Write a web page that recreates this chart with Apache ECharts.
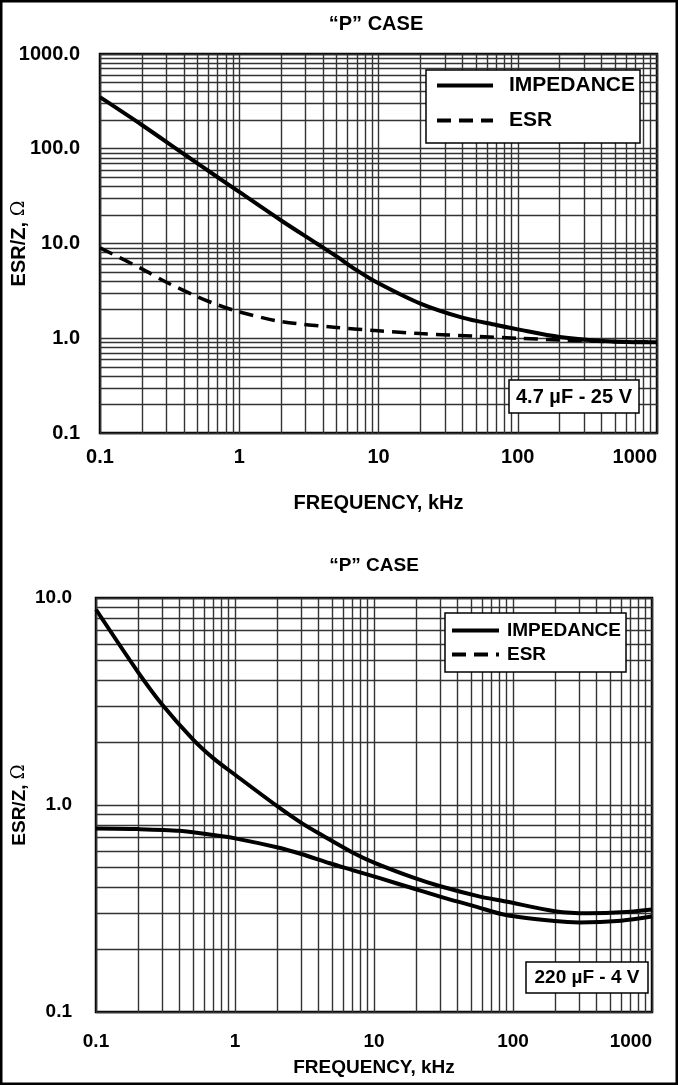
<!DOCTYPE html>
<html><head><meta charset="utf-8">
<script src="https://cdn.jsdelivr.net/npm/echarts@6/dist/echarts.min.js"></script>
<style>html,body{margin:0;padding:0;background:#fff}#c{width:678px;height:1085px}</style>
</head><body><div id="c"></div>
<script>
// ---- tick labels ----
const xTickLabels = ['0.1', '1', '10', '100', '1000'];
const yTopTickLabels = ['0.1', '1.0', '10.0', '100.0', '1000.0'];
const yBotTickLabels = ['0.1', '1.0', '10.0'];

// ---- top chart: 4.7 uF - 25 V ----
const freqImpTop = [0.1, 0.2, 0.4, 0.7, 1, 2, 3.6, 5, 7, 10, 20, 40, 70, 100, 200, 400, 700, 1000];
const impTop     = [350, 178, 88, 50, 35, 17.5, 10, 7.3, 5.2, 3.8, 2.32, 1.65, 1.38, 1.24, 1.03, 0.935, 0.91, 0.91];
const freqEsrTop = [0.1, 0.2, 0.3, 0.5, 0.7, 1, 2, 5, 10, 20, 50, 100, 200, 500, 1000];
const esrTop     = [9.0, 5.4, 3.9, 2.75, 2.25, 1.9, 1.5, 1.3, 1.2, 1.12, 1.05, 1.0, 0.96, 0.92, 0.91];

// ---- bottom chart: 220 uF - 4 V ----
const freqImpBot = [0.1, 0.2, 0.3, 0.5, 0.7, 1, 2, 3, 4.3, 7, 10, 19, 30, 57, 89, 200, 350, 600, 1000];
const impBot     = [8.8, 4.4, 3.05, 2.07, 1.68, 1.40, 0.99, 0.82, 0.71, 0.59, 0.527, 0.447, 0.405, 0.362, 0.342, 0.307, 0.30, 0.303, 0.313];
const freqEsrBot = [0.1, 0.2, 0.4, 0.7, 1, 2, 3, 4.8, 7, 11, 19, 33, 54, 89, 200, 300, 600, 1000];
const esrBot     = [0.77, 0.765, 0.75, 0.716, 0.69, 0.625, 0.58, 0.523, 0.485, 0.443, 0.396, 0.354, 0.323, 0.294, 0.275, 0.271, 0.276, 0.289];

const FONT = 'Liberation Sans, Arial, Helvetica, sans-serif';
const zip = (xs, ys) => xs.map((x, i) => [x, ys[i]]);
function minorVals(e0, e1) {
  const out = [];
  for (let e = e0; e < e1; e++) for (let k = 2; k <= 9; k++) out.push(+(k * Math.pow(10, e)).toPrecision(6));
  return out;
}
const idx = v => Math.round(Math.log10(v));

const gridLine = { color: '#333', width: 1.4 };
function xAxisDef(gi, fs, margin, nameGap) {
  return {
    type: 'log', gridIndex: gi, min: 0.1, max: 1000, logBase: 10,
    axisLine: { show: false }, axisTick: { show: false },
    splitLine: { show: true, lineStyle: gridLine },
    axisLabel: { fontFamily: FONT, fontWeight: 'bold', fontSize: fs, color: '#000', margin: margin,
      alignMaxLabel: 'right', formatter: v => xTickLabels[idx(v) + 1] },
    name: 'FREQUENCY, kHz', nameLocation: 'middle', nameGap: nameGap, nameMoveOverlap: false,
    nameTextStyle: { fontFamily: FONT, fontWeight: 'bold', fontSize: fs, color: '#000' }
  };
}
function yAxisDef(gi, min, max, labels, fs, margin, nameGap) {
  return {
    type: 'log', gridIndex: gi, min: min, max: max, logBase: 10,
    axisLine: { show: false }, axisTick: { show: false },
    splitLine: { show: true, lineStyle: gridLine },
    axisLabel: { fontFamily: FONT, fontWeight: 'bold', fontSize: fs, color: '#000', margin: margin,
      formatter: v => labels[idx(v) + 1] },
    name: '{a|ESR/Z, }{b|Ω}', nameLocation: 'middle', nameGap: nameGap, nameMoveOverlap: false,
    nameTextStyle: { rich: {
      a: { fontFamily: FONT, fontWeight: 'bold', fontSize: fs, color: '#000' },
      b: { fontFamily: 'DejaVu Serif', fontSize: fs - 1, color: '#000' } } }
  };
}
function minorMarkLine(yE0, yE1) {
  const data = minorVals(-1, 3).map(v => ({ xAxis: v }))
    .concat(minorVals(yE0, yE1).map(v => ({ yAxis: v })));
  return { silent: true, symbol: ['none', 'none'], z: 1, label: { show: false },
    lineStyle: { color: '#333', width: 1.4, type: 'solid' }, emphasis: { disabled: true }, data: data };
}
const lineSeries = (name, gi, xs, ys, style, extra) => Object.assign({
  name: name, type: 'line', xAxisIndex: gi, yAxisIndex: gi, data: zip(xs, ys),
  symbol: 'none', smooth: 0.3, z: 3,
  itemStyle: { color: '#000' }, lineStyle: style
}, extra || {});

const chart = echarts.init(document.getElementById('c'), null, { renderer: 'canvas' });
chart.setOption({
  animation: false,
  backgroundColor: '#fff',
  grid: [
    { left: 100, top: 54, width: 557, height: 379, show: true, borderColor: '#000', borderWidth: 2.5,
      backgroundColor: '#fff', containLabel: false, outerBoundsMode: 'none' },
    { left: 96, top: 598, width: 556, height: 414, show: true, borderColor: '#000', borderWidth: 2.5,
      backgroundColor: '#fff', containLabel: false, outerBoundsMode: 'none' }
  ],
  xAxis: [xAxisDef(0, 20, 14, 60), xAxisDef(1, 19, 20, 46)],
  yAxis: [yAxisDef(0, 0.1, 1000, yTopTickLabels, 20, 20, 71), yAxisDef(1, 0.1, 10, yBotTickLabels, 19, 24, 67)],
  legend: [
    { orient: 'vertical', left: 426, top: 70, padding: [5, 5, 12, 9], itemGap: 14, itemWidth: 56, itemHeight: 16,
      backgroundColor: '#fff', borderColor: '#000', borderWidth: 1.5, selectedMode: false,
      itemStyle: { opacity: 0 }, lineStyle: { width: 4, color: '#000' },
      textStyle: { fontFamily: FONT, fontWeight: 'bold', fontSize: 21, color: '#000', padding: [0, 0, 0, 11] },
      data: ['IMPEDANCE', 'ESR'] },
    { orient: 'vertical', left: 445, top: 613, padding: [8, 5, 8, 5], itemGap: 5, itemWidth: 47, itemHeight: 16,
      backgroundColor: '#fff', borderColor: '#000', borderWidth: 1.5, selectedMode: false,
      itemStyle: { opacity: 0 }, lineStyle: { width: 4, color: '#000' },
      textStyle: { fontFamily: FONT, fontWeight: 'bold', fontSize: 19, color: '#000', padding: [0, 0, 0, 3] },
      data: ['IMPEDANCE', 'ESR'] }
  ],
  series: [
    lineSeries('IMPEDANCE', 0, freqImpTop, impTop, { color: '#000', width: 4 }),
    lineSeries('ESR', 0, freqEsrTop, esrTop, { color: '#000', width: 3.5, type: [14, 8] },
      { markLine: minorMarkLine(-1, 3) }),
    lineSeries('IMPEDANCE', 1, freqImpBot, impBot, { color: '#000', width: 4 }),
    lineSeries('ESR', 1, freqEsrBot, esrBot, { color: '#000', width: 4 },
      { markLine: minorMarkLine(-1, 1) })
  ],
  graphic: [
    { type: 'rect', z: 100, silent: true, shape: { x: 1.25, y: 1.25, width: 675.5, height: 1082.5 },
      style: { fill: null, stroke: '#000', lineWidth: 2.5 } },
    { type: 'text', z: 100, x: 376, y: 24, style: { text: '“P” CASE', font: 'bold 20px ' + FONT, fill: '#000', textAlign: 'center', textVerticalAlign: 'middle' } },
    { type: 'text', z: 100, x: 374, y: 566, style: { text: '“P” CASE', font: 'bold 19px ' + FONT, fill: '#000', textAlign: 'center', textVerticalAlign: 'middle' } },
    { type: 'rect', z: 100, shape: { x: 509, y: 380, width: 130, height: 33 }, style: { fill: '#fff', stroke: '#000', lineWidth: 1.5 } },
    { type: 'text', z: 101, x: 574, y: 397, style: { text: '4.7 µF - 25 V', font: 'bold 20px ' + FONT, fill: '#000', textAlign: 'center', textVerticalAlign: 'middle' } },
    { type: 'rect', z: 100, shape: { x: 526, y: 962, width: 122, height: 31 }, style: { fill: '#fff', stroke: '#000', lineWidth: 1.5 } },
    { type: 'text', z: 101, x: 587, y: 978, style: { text: '220 µF - 4 V', font: 'bold 19px ' + FONT, fill: '#000', textAlign: 'center', textVerticalAlign: 'middle' } }
  ]
});
</script></body></html>
